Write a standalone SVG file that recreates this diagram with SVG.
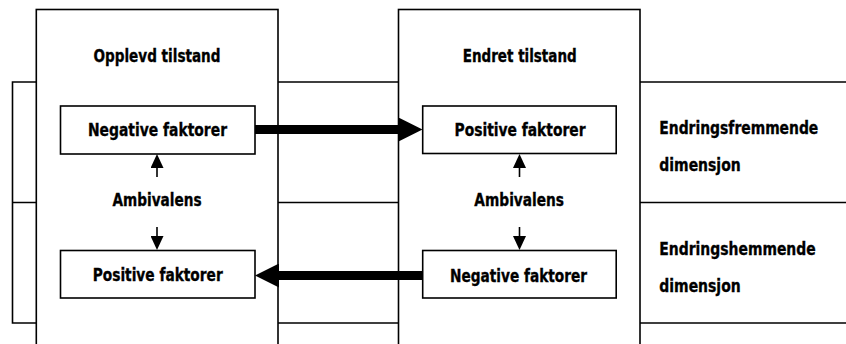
<svg xmlns="http://www.w3.org/2000/svg" width="846" height="344" viewBox="0 0 846 344">
<defs>
<style>
.ln{fill:none;stroke:#000;stroke-width:1.6}
.box{fill:#fff;stroke:#000;stroke-width:1.6}
.t{font-family:"Liberation Sans Narrow","DejaVu Sans Condensed","DejaVu Sans",sans-serif;font-weight:bold;font-size:18.5px;fill:#000;stroke:#000;stroke-width:0.35}
.c{text-anchor:middle}
.thick{fill:none;stroke:#000;stroke-width:9}
.thin{fill:none;stroke:#000;stroke-width:1.6}
</style>
<marker id="big" markerUnits="userSpaceOnUse" viewBox="0 0 24 24" markerWidth="24" markerHeight="24" refX="0" refY="12" orient="auto">
<path d="M0,0 L24,12 L0,24 z" fill="#000"/>
</marker>
<marker id="small" markerUnits="userSpaceOnUse" viewBox="0 0 14 13" markerWidth="14" markerHeight="13" refX="0" refY="6.5" orient="auto">
<path d="M0,0 L14,6.5 L0,13 z" fill="#000"/>
</marker>
</defs>
<rect width="846" height="344" fill="#fff"/>
<g id="rows">
<path class="ln" d="M846,82 H12.5 V323 H846 M12.5,202.5 H846"/>
</g>
<g id="opplevd">
<rect class="box" x="36.3" y="9.5" width="241.7" height="345"/>
<text class="t c" x="157" y="62" textLength="127" lengthAdjust="spacingAndGlyphs">Opplevd tilstand</text>
</g>
<g id="endret">
<rect class="box" x="398.5" y="9.5" width="241.5" height="345"/>
<text class="t c" x="519.7" y="62" textLength="114" lengthAdjust="spacingAndGlyphs">Endret tilstand</text>
</g>
<g id="left-neg">
<rect class="box" x="60.5" y="106" width="194.5" height="48"/>
<text class="t c" x="157.5" y="135.5" textLength="139" lengthAdjust="spacingAndGlyphs">Negative faktorer</text>
</g>
<g id="left-amb">
<text class="t c" x="157" y="206" textLength="89" lengthAdjust="spacingAndGlyphs">Ambivalens</text>
</g>
<g id="left-pos">
<rect class="box" x="60.5" y="250.5" width="194.5" height="47.5"/>
<text class="t c" x="157.7" y="281" textLength="130" lengthAdjust="spacingAndGlyphs">Positive faktorer</text>
</g>
<g id="right-pos">
<rect class="box" x="422.7" y="106" width="193.5" height="47.5"/>
<text class="t c" x="520" y="136" textLength="131" lengthAdjust="spacingAndGlyphs">Positive faktorer</text>
</g>
<g id="right-amb">
<text class="t c" x="519.2" y="206" textLength="89.7" lengthAdjust="spacingAndGlyphs">Ambivalens</text>
</g>
<g id="right-neg">
<rect class="box" x="422.7" y="250.5" width="193.5" height="47.5"/>
<text class="t c" x="518.5" y="281.5" textLength="137" lengthAdjust="spacingAndGlyphs">Negative faktorer</text>
</g>
<g id="fremmende">
<text class="t" x="659.3" y="134" textLength="159" lengthAdjust="spacingAndGlyphs">Endringsfremmende</text>
<text class="t" x="659.3" y="170.5" textLength="81.4" lengthAdjust="spacingAndGlyphs">dimensjon</text>
</g>
<g id="hemmende">
<text class="t" x="659.3" y="255" textLength="156.4" lengthAdjust="spacingAndGlyphs">Endringshemmende</text>
<text class="t" x="659.3" y="291.5" textLength="81.4" lengthAdjust="spacingAndGlyphs">dimensjon</text>
</g>
<g id="connectors">
<line class="thick" x1="255" y1="129.5" x2="398.5" y2="129.5" marker-end="url(#big)"/>
<line class="thick" x1="422.7" y1="275.5" x2="279" y2="275.5" marker-end="url(#big)"/>
<line class="thin" x1="157" y1="177" x2="157" y2="168" marker-end="url(#small)"/>
<line class="thin" x1="157" y1="227" x2="157" y2="236" marker-end="url(#small)"/>
<line class="thin" x1="519.5" y1="177" x2="519.5" y2="168" marker-end="url(#small)"/>
<line class="thin" x1="519.5" y1="227" x2="519.5" y2="236" marker-end="url(#small)"/>
</g>
</svg>
